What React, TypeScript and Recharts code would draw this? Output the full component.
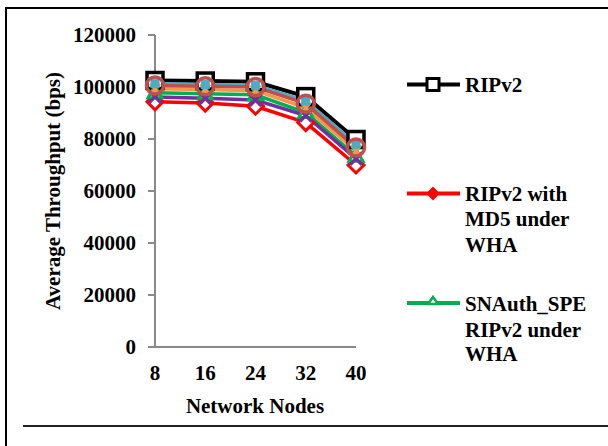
import React from "react";
import { LineChart, Line, XAxis, YAxis } from "recharts";

const nodes = ["8", "16", "24", "32", "40"];
const ripv2 = [102500, 102300, 102000, 96300, 79800];
const ripv2Md5 = [94300, 93800, 92600, 86300, 70000];
const snauthSpe = [97800, 97400, 97000, 90200, 73400];
const series4 = [96200, 95700, 95000, 89000, 72400];
const series5 = [99300, 99000, 98600, 92000, 75400];
const series6 = [101300, 101000, 100700, 94600, 78000];
const series7 = [100600, 100300, 100000, 93600, 76700];
const yTicks = [0, 20000, 40000, 60000, 80000, 100000, 120000];

const data = nodes.map((n, i) => ({
  node: n,
  ripv2: ripv2[i],
  md5: ripv2Md5[i],
  snauth: snauthSpe[i],
  s4: series4[i],
  s5: series5[i],
  s6: series6[i],
  s7: series7[i],
}));

const FONT = "Liberation Serif, Tinos, Times New Roman, DejaVu Serif, serif";

const SquareDot = (props: any) => {
  const { cx, cy } = props;
  if (cx == null || cy == null) return null;
  return <rect key={props.index} x={cx - 8} y={cy - 8} width={16} height={16} fill="#fff" stroke="#000" strokeWidth={3.5} />;
};
const DiamondDot = (props: any) => {
  const { cx, cy } = props;
  if (cx == null || cy == null) return null;
  return (
    <path key={props.index} d={`M${cx},${cy - 8} L${cx + 8},${cy} L${cx},${cy + 8} L${cx - 8},${cy} Z`} fill="#fff" stroke="#FF0000" strokeWidth={3} />
  );
};
const TriangleDot = (props: any) => {
  const { cx, cy } = props;
  if (cx == null || cy == null) return null;
  return (
    <path key={props.index} d={`M${cx},${cy - 7} L${cx + 7},${cy + 5} L${cx - 7},${cy + 5} Z`} fill="#fff" stroke="#00B050" strokeWidth={3} />
  );
};
const XDot = (props: any) => {
  const { cx, cy } = props;
  if (cx == null || cy == null) return null;
  return (
    <path key={props.index} d={`M${cx - 6},${cy - 6} L${cx + 6},${cy + 6} M${cx + 6},${cy - 6} L${cx - 6},${cy + 6}`} stroke="#7030A0" strokeWidth={3.5} fill="none" />
  );
};
const StarDot = (props: any) => {
  const { cx, cy } = props;
  if (cx == null || cy == null) return null;
  return (
    <path key={props.index} d={`M${cx - 5},${cy - 5} L${cx + 5},${cy + 5} M${cx + 5},${cy - 5} L${cx - 5},${cy + 5} M${cx},${cy - 6} L${cx},${cy + 6}`} stroke="#F79646" strokeWidth={2.5} fill="none" />
  );
};
const SmallSquareDot = (props: any) => {
  const { cx, cy } = props;
  if (cx == null || cy == null) return null;
  return <rect key={props.index} x={cx - 4} y={cy - 4} width={8} height={8} fill="#4BACC6" stroke="#4BACC6" strokeWidth={1} />;
};
const CircleDot = (props: any) => {
  const { cx, cy } = props;
  if (cx == null || cy == null) return null;
  return <circle key={props.index} cx={cx} cy={cy} r={8.5} fill="none" stroke="#C0504D" strokeWidth={3.5} />;
};

const XTick = (props: any) => {
  const { x, y, payload } = props;
  return (
    <text x={x} y={y} dy={15} textAnchor="middle" fontFamily={FONT} fontWeight={700} fontSize={21} fill="#000">
      {payload.value}
    </text>
  );
};
const YTick = (props: any) => {
  const { x, y, payload } = props;
  return (
    <text x={x} y={y} dy={7} textAnchor="end" fontFamily={FONT} fontWeight={700} fontSize={21} fill="#000">
      {payload.value}
    </text>
  );
};

export default function App() {
  return (
    <div style={{ position: "absolute", left: 0, top: 0, width: 608, height: 446, background: "#fff", fontFamily: FONT }}>
      <div style={{ position: "absolute", left: 5, top: 7, right: 0, bottom: 0, borderLeft: "2px solid #000", borderTop: "2px solid #000" }} />
      <div style={{ position: "absolute", left: 23, top: 425, right: 0, height: 2, background: "#222" }} />
      <div style={{ position: "absolute", left: 0, top: 0 }}>
        <LineChart width={608} height={446} data={data} margin={{ top: 35, right: 252, bottom: 39, left: 75 }}>
          <XAxis
            dataKey="node"
            height={60}
            axisLine={{ stroke: "#898989", strokeWidth: 2 }}
            tickLine={false}
            tickSize={6}
            tickMargin={12}
            tick={<XTick />}
            interval={0}
          />
          <YAxis
            width={80}
            domain={[0, 120000]}
            ticks={yTicks}
            interval={0}
            axisLine={{ stroke: "#898989", strokeWidth: 2 }}
            tickLine={{ stroke: "#898989", strokeWidth: 2 }}
            tickSize={7}
            tickMargin={12}
            tick={<YTick />}
          />
          <Line dataKey="ripv2" name="RIPv2" stroke="#000" strokeWidth={4} dot={SquareDot} isAnimationActive={false} />
          <Line dataKey="md5" name="RIPv2 with MD5 under WHA" stroke="#FF0000" strokeWidth={3.5} dot={DiamondDot} isAnimationActive={false} />
          <Line dataKey="snauth" name="SNAuth_SPE RIPv2 under WHA" stroke="#00B050" strokeWidth={3.5} dot={TriangleDot} isAnimationActive={false} />
          <Line dataKey="s4" name="Series 4" stroke="#7030A0" strokeWidth={3.5} dot={XDot} isAnimationActive={false} />
          <Line dataKey="s5" name="Series 5" stroke="#F79646" strokeWidth={3.5} dot={StarDot} isAnimationActive={false} />
          <Line dataKey="s6" name="Series 6" stroke="#4BACC6" strokeWidth={3.5} dot={SmallSquareDot} isAnimationActive={false} />
          <Line dataKey="s7" name="Series 7" stroke="#C0504D" strokeWidth={3.5} dot={CircleDot} isAnimationActive={false} />
        </LineChart>
      </div>
      <svg width={608} height={446} style={{ position: "absolute", left: 0, top: 0, pointerEvents: "none" }} fontFamily={FONT} fontWeight={700} fontSize={21}>
        <text x={60} y={191} transform="rotate(-90 60 191)" textAnchor="middle" fill="#000">
          Average Throughput (bps)
        </text>
        <text x={255} y={413} textAnchor="middle" fill="#000">
          Network Nodes
        </text>
        <g>
          <line x1={407} x2={460} y1={84.5} y2={84.5} stroke="#000" strokeWidth={4} />
          <rect x={427} y={78.5} width={12} height={12} fill="#fff" stroke="#000" strokeWidth={3} />
          <text x={465} y={92} fill="#000">RIPv2</text>
        </g>
        <g>
          <line x1={407} x2={460} y1={193.5} y2={193.5} stroke="#FF0000" strokeWidth={4} />
          <path d="M433,188 L438.5,193.5 L433,199 L427.5,193.5 Z" fill="#FF0000" stroke="#FF0000" strokeWidth={2} />
          <text fill="#000">
            <tspan x={465} y={200.5}>RIPv2 with</tspan>
            <tspan x={465} y={226}>MD5 under</tspan>
            <tspan x={465} y={251.5}>WHA</tspan>
          </text>
        </g>
        <g>
          <line x1={407} x2={460} y1={303} y2={303} stroke="#00B050" strokeWidth={4} />
          <path d="M433,297 L438,304 L428,304 Z" fill="#fff" stroke="#00B050" strokeWidth={2.5} />
          <text fill="#000">
            <tspan x={465} y={311}>SNAuth_SPE</tspan>
            <tspan x={465} y={336.5}>RIPv2 under</tspan>
            <tspan x={465} y={361}>WHA</tspan>
          </text>
        </g>
      </svg>
    </div>
  );
}
